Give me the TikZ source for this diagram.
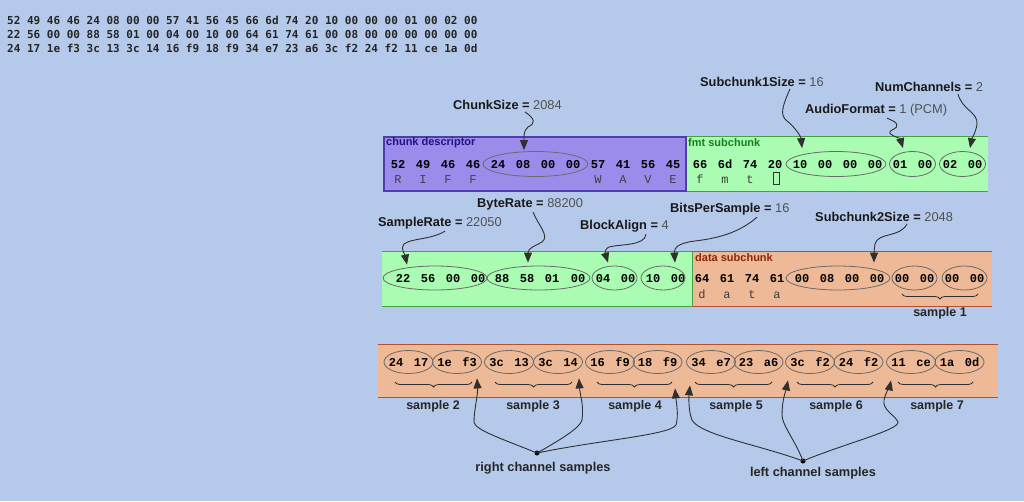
\documentclass[tikz,border=0pt]{standalone}
\usepackage{fontspec}
\usetikzlibrary{shapes.geometric,arrows.meta,decorations.pathreplacing}
\newfontfamily\labf{Liberation Sans}
\newfontfamily\hexf{Liberation Mono}
\newfontfamily\dumpf{DejaVu Sans Mono}
\definecolor{bg}{HTML}{B5C9EA}
\definecolor{purf}{HTML}{9B8CEB}
\definecolor{purd}{HTML}{503CAA}
\definecolor{grnf}{HTML}{AAFCB2}
\definecolor{grnd}{HTML}{46A046}
\definecolor{orf}{HTML}{EEB996}
\definecolor{ord}{HTML}{B45032}
\definecolor{ovalc}{HTML}{6A6A6A}
\definecolor{linec}{HTML}{303030}
\definecolor{valc}{HTML}{505050}
\definecolor{cdc}{HTML}{1E1482}
\definecolor{fmtc}{HTML}{168216}
\definecolor{datc}{HTML}{8C280A}
\tikzset{
  byte/.style={font=\hexf\bfseries\fontsize{12}{12}\selectfont, inner sep=0, anchor=center, text height=8pt, text depth=0pt},
  letter/.style={font=\hexf\fontsize{12}{12}\selectfont, text=black!75, inner sep=0, anchor=center, text height=8pt, text depth=0pt},
  oval/.style={ellipse, draw=ovalc, line width=0.8, inner sep=0, minimum height=25},
  seclab/.style={font=\labf\bfseries\fontsize{11}{11}\selectfont, anchor=west, inner sep=0},
  flab/.style={font=\labf\fontsize{12.8}{14}\selectfont, anchor=west, inner sep=0, text=black!90},
  conn/.style={draw=linec, line width=0.9, -{Triangle[length=10pt,width=8pt]}},
  samp/.style={font=\labf\bfseries\fontsize{12.5}{13}\selectfont, text=black!85, inner sep=0},
  brc/.style={decorate, decoration={brace, mirror, amplitude=5pt}, draw=linec, line width=0.8},
  dump/.style={font=\dumpf\bfseries\fontsize{11}{11}\selectfont, anchor=west, inner sep=0, text=black!85},
  band/.style={rectangle, inner sep=0, draw=none}
}
\begin{document}
\begin{tikzpicture}[x=1pt,y=-1pt]
\fill[bg] (0,0) rectangle (1024,501);
\useasboundingbox (0,0) rectangle (1024,501);

% hex dump
\node[dump] (d1) at (7,20) {52 49 46 46 24 08 00 00 57 41 56 45 66 6d 74 20 10 00 00 00 01 00 02 00};
\node[dump] (d2) at (7,34) {22 56 00 00 88 58 01 00 04 00 10 00 64 61 74 61 00 08 00 00 00 00 00 00};
\node[dump] (d3) at (7,48) {24 17 1e f3 3c 13 3c 14 16 f9 18 f9 34 e7 23 a6 3c f2 24 f2 11 ce 1a 0d};

% ---------- row 1 ----------
\node[band, fill=grnf, minimum width=302, minimum height=54] (fmt) at (837,164) {};
\draw[grnd, line width=1.2] (fmt.north west) -- (fmt.north east) (fmt.south west) -- (fmt.south east);
\node[band, fill=purf, draw=purd, line width=1.2, minimum width=302, minimum height=54] (cd) at (535,164) {};
\node[seclab, text=cdc] (cdlab) at (386,143) {chunk descriptor};
\node[seclab, text=fmtc] (fmtlab) at (688,143) {fmt subchunk};

\foreach \b [count=\i from 0] in {52,49,46,46,24,08,00,00,57,41,56,45}
  \node[byte] (a\i) at (398+25*\i,164) {\b};
\foreach \b [count=\i from 0] in {66,6d,74,20,10,00,00,00,01,00,02,00}
  \node[byte] (f\i) at (700+25*\i,164) {\b};
\foreach \l/\x in {R/398,I/423,F/448,F/473,W/598,A/623,V/648,E/673,f/700,m/725,t/750}
  \node[letter] at (\x,179) {\l};
\node[draw=black!80, line width=0.8, minimum width=6, minimum height=12, inner sep=0] (sp) at (776,178) {};

\node[oval, minimum width=105] (Ocs) at (535.5,164) {};
\node[oval, minimum width=100] (Os1) at (836,164) {};
\node[oval, minimum width=46] (Oa) at (912.5,164) {};
\node[oval, minimum width=46] (On) at (962.5,164) {};

\node[flab] (Lcs) at (453,105) {\bfseries ChunkSize = {\mdseries\color{valc}2084}};
\node[flab] (Ls1) at (700,82) {\bfseries Subchunk1Size = {\mdseries\color{valc}16}};
\node[flab] (La) at (805,110) {\bfseries AudioFormat = {\mdseries\color{valc}1 (PCM)}};
\node[flab] (Ln) at (875,87) {\bfseries NumChannels = {\mdseries\color{valc}2}};

\draw[conn] ([xshift=72,yshift=-2]Lcs.south west) .. controls (535,119) and (536,123) .. (528,127) .. controls (523,131) and (524,138) .. ([xshift=-11.5,yshift=1]Ocs.north);
\draw[conn] ([xshift=90,yshift=-2]Ls1.south west) .. controls (783,105) and (779,115) .. (787,121) .. controls (795,127) and (801,137) .. ([xshift=-34,yshift=3]Os1.north);
\draw[conn] ([xshift=82,yshift=-2]La.south west) .. controls (897,122) and (901,126) .. (892,130) .. controls (884,134) and (900,138) .. ([xshift=-9.5,yshift=3]Oa.north);
\draw[conn] ([xshift=83,yshift=-2]Ln.south west) .. controls (962,110) and (978,112) .. (977,124) .. controls (976,132) and (972,138) .. ([xshift=7.5,yshift=3]On.north);

% ---------- row 2 ----------
\node[band, fill=grnf, minimum width=310, minimum height=54] (r2g) at (537,279) {};
\node[band, fill=orf, minimum width=300, minimum height=54] (dat) at (842,279) {};
\draw[grnd, line width=1.2] (r2g.north west) -- (r2g.north east) (r2g.south west) -- (r2g.south east) (r2g.north east) -- (r2g.south east);
\draw[ord, line width=1.2] ([xshift=0.6]dat.north west) -- (dat.north east) ([xshift=0.6]dat.south west) -- (dat.south east);
\node[seclab, text=datc] (datlab) at (695,258) {data subchunk};

\foreach \b/\x [count=\i] in {22/403,56/428,00/453,00/478,88/502,58/527,01/552,00/578,04/603,00/628,10/653,00/678}
  \node[byte] (g\i) at (\x,278) {\b};
\foreach \b [count=\i from 0] in {64,61,74,61,00,08,00,00,00,00,00,00}
  \node[byte] (h\i) at (702+25*\i,278) {\b};
\foreach \l/\x in {d/702,a/727,t/752,a/777}
  \node[letter] at (\x,294) {\l};

\node[oval, minimum width=104, minimum height=24] (Osr) at (435,278) {};
\node[oval, minimum width=103, minimum height=24] (Obr) at (538.5,278) {};
\node[oval, minimum width=45, minimum height=24] (Oba) at (614.5,278) {};
\node[oval, minimum width=44, minimum height=24] (Obp) at (663,278) {};
\node[oval, minimum width=104, minimum height=24] (Os2) at (838,278) {};
\node[oval, minimum width=45, minimum height=24] (Od1) at (914.5,278) {};
\node[oval, minimum width=45, minimum height=24] (Od2) at (964.5,278) {};

\node[flab] (Lsr) at (378,223) {\bfseries SampleRate = {\mdseries\color{valc}22050}};
\node[flab] (Lbr) at (477,204) {\bfseries ByteRate = {\mdseries\color{valc}88200}};
\node[flab] (Lba) at (580,226) {\bfseries BlockAlign = {\mdseries\color{valc}4}};
\node[flab] (Lbp) at (670,209) {\bfseries BitsPerSample = {\mdseries\color{valc}16}};
\node[flab] (Ls2) at (815,217) {\bfseries Subchunk2Size = {\mdseries\color{valc}2048}};

\draw[conn] ([xshift=67,yshift=-2]Lsr.south west) .. controls (430,240) and (412,238) .. (404,244) .. controls (400,248) and (405,255) .. ([xshift=-28,yshift=1]Osr.north);
\draw[conn] ([xshift=56,yshift=-2]Lbr.south west) .. controls (538,225) and (550,236) .. (542,242) .. controls (535,246) and (528,248) .. ([xshift=-10.5,yshift=3]Obr.north);
\draw[conn] ([xshift=66,yshift=-2]Lba.south west) .. controls (645,246) and (620,244) .. (609,247) .. controls (603,250) and (606,256) .. ([xshift=-6.5,yshift=3]Oba.north);
\draw[conn] ([xshift=87,yshift=-2]Lbp.south west) .. controls (740,232) and (720,238) .. (695,241) .. controls (678,243) and (674,248) .. ([xshift=12,yshift=3]Obp.north);
\draw[conn] ([xshift=92,yshift=-2]Ls2.south west) .. controls (900,238) and (878,232) .. (875,244) .. controls (874,250) and (874,255) .. ([xshift=36,yshift=3]Os2.north);

\draw[brc] (902,294) -- (978,294);
\node[samp] (s1) at (940,313) {sample 1};

% ---------- row 3 ----------
\node[band, fill=orf, minimum width=620, minimum height=52] (r3) at (688,371) {};
\draw[ord, line width=1.2] (r3.north west) -- (r3.north east) (r3.south west) -- (r3.south east);

\foreach \c/\p/\q [count=\i] in {408.5/24/17,457/1e/f3,509/3c/13,558/3c/14,610/16/f9,657.5/18/f9,711/34/e7,758.5/23/a6,810/3c/f2,858.5/24/f2,911/11/ce,959.5/1a/0d}{
  \node[oval, minimum width=49, minimum height=23] (o\i) at (\c,362) {};
  \node[byte] at (\c-12.5,362) {\p};
  \node[byte] at (\c+12.5,362) {\q};
}
\foreach \a/\b/\m/\n in {395/472/433/2,495/572/533/3,597/672/635/4,695/772/736/5,797/873/836/6,898/973/937/7}{
  \draw[brc] (\a,382) -- (\b,382);
  \node[samp] at (\m,406) {sample \n};
}

\node[circle, fill=black, inner sep=0, minimum size=5] (rdot) at (537,453) {};
\node[samp, font=\labf\bfseries\fontsize{12.8}{13}\selectfont] (rlab) at (543,468) {right channel samples};
\node[circle, fill=black, inner sep=0, minimum size=5] (ldot) at (803,461) {};
\node[samp, font=\labf\bfseries\fontsize{12.8}{13}\selectfont] (llab) at (813,473) {left channel samples};

\draw[conn] (rdot.center) .. controls (500,438) and (475,430) .. (474,422) .. controls (474,410) and (478,395) .. ([xshift=20,yshift=-4.5]o2.south);
\draw[conn] (rdot.center) .. controls (560,440) and (580,428) .. (582,420) .. controls (584,405) and (580,395) .. ([xshift=21,yshift=-4.5]o4.south);
\draw[conn] (rdot.center) .. controls (600,440) and (670,435) .. (676,425) .. controls (679,415) and (676,400) .. ([xshift=17.5,yshift=-14.5]o6.south);
\draw[conn] (ldot.center) .. controls (760,445) and (700,435) .. (692,420) .. controls (688,410) and (689,395) .. ([xshift=-21,yshift=-11.5]o7.south);
\draw[conn] (ldot.center) .. controls (795,440) and (782,425) .. (782,415) .. controls (782,400) and (786,390) .. ([xshift=-22,yshift=-6.5]o9.south);
\draw[conn] (ldot.center) .. controls (840,445) and (900,430) .. (898,422) .. controls (895,415) and (882,410) .. (884,400) .. controls (886,392) and (890,385) .. ([xshift=-20,yshift=-6.5]o11.south);
\end{tikzpicture}
\end{document}
